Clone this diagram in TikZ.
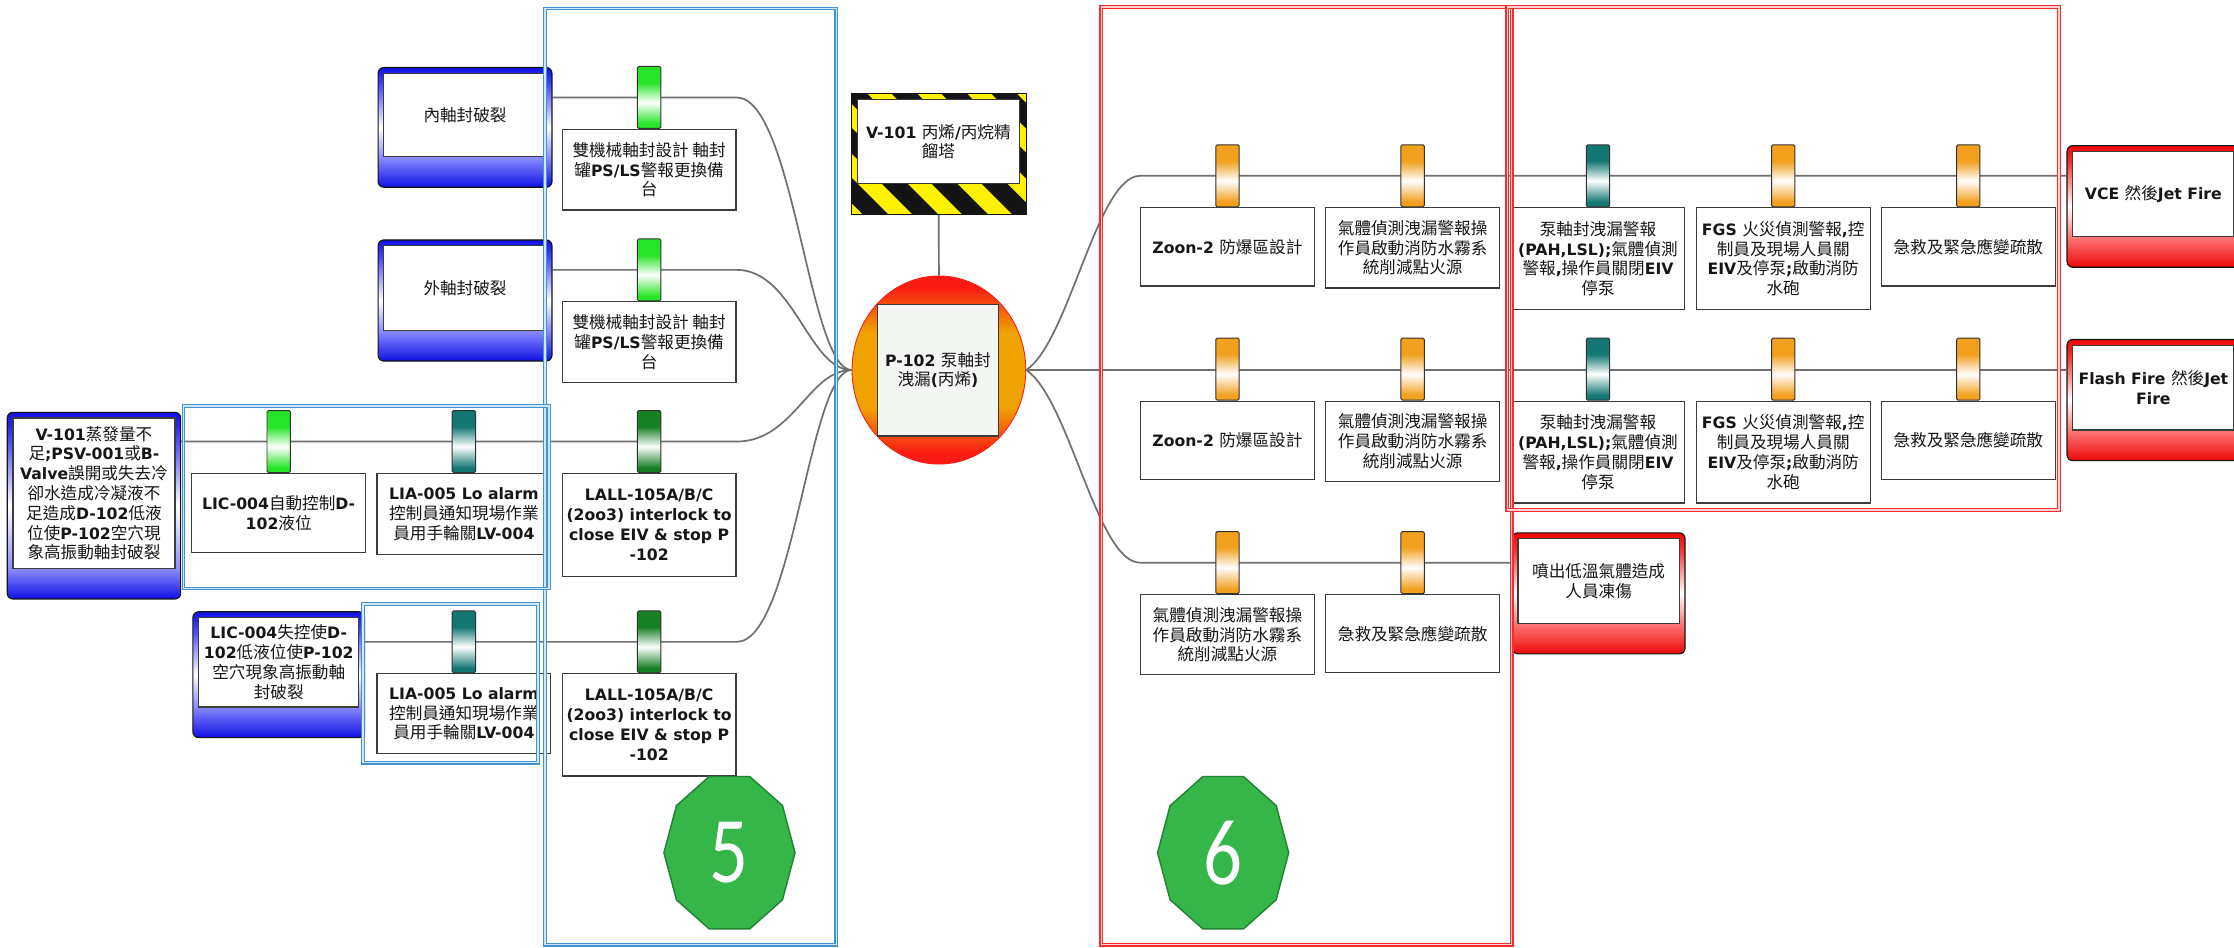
\documentclass[tikz,border=0pt]{standalone}
\usepackage{fontspec}
\usetikzlibrary{shapes.geometric}

% Latin text in bold DejaVu Sans, CJK text in Noto Sans CJK TC
\newfontfamily\latfam{DejaVu Sans}
\newfontfamily\cjkfam{Noto Sans CJK TC}[Scale=1.06]
\newfontfamily\numfam{Carlito}
\newcommand\latsw{\latfam\bfseries}
\newcommand\cjksw{\cjkfam\mdseries}

% automatic font switching between Latin and CJK characters
\newXeTeXintercharclass\cjkcls
\newcount\cjkcnt
\cjkcnt="4E00
\loop
  \XeTeXcharclass\cjkcnt=\cjkcls
  \advance\cjkcnt by 1
\ifnum\cjkcnt<"A000 \repeat
\XeTeXinterchartoks 0 \cjkcls = {\cjksw}
\XeTeXinterchartoks 4095 \cjkcls = {\cjksw}
\XeTeXinterchartoks \cjkcls 0 = {\latsw}
\XeTeXinterchartoks 4095 0 = {\latsw}
\newcommand\diagfont{\XeTeXinterchartokenstate=1 \fontsize{11}{13.9}\selectfont\latsw}

% colours
\definecolor{linegray}{RGB}{112,112,112}
\definecolor{boxedge}{RGB}{60,60,60}
\definecolor{tabedge}{RGB}{50,50,50}
\definecolor{txtcol}{RGB}{22,22,22}
\definecolor{tgreen}{RGB}{40,228,40}
\definecolor{tdkgreen}{RGB}{24,128,36}
\definecolor{tteal}{RGB}{20,120,114}
\definecolor{torange}{RGB}{242,160,30}
\definecolor{bdeep}{RGB}{16,16,228}
\definecolor{bmid}{RGB}{70,70,250}
\definecolor{blight}{RGB}{140,140,255}
\definecolor{rdeep}{RGB}{236,8,8}
\definecolor{rmid}{RGB}{250,50,50}
\definecolor{rlight}{RGB}{255,120,120}
\definecolor{evred}{RGB}{250,28,20}
\definecolor{evorange}{RGB}{240,162,0}
\definecolor{evbg}{RGB}{244,246,244}
\definecolor{hazyel}{RGB}{255,242,0}
\definecolor{hazblk}{RGB}{20,20,20}
\definecolor{frameblue}{RGB}{66,146,214}
\definecolor{framered}{RGB}{245,45,45}
\definecolor{octgreen}{RGB}{52,182,72}
\definecolor{octedge}{RGB}{36,130,52}

% shadings
\pgfdeclareverticalshading{tabgrn}{100bp}{color(0bp)=(tgreen); color(29bp)=(tgreen); color(46bp)=(white); color(62bp)=(tgreen); color(100bp)=(tgreen)}
\pgfdeclareverticalshading{tabdkg}{100bp}{color(0bp)=(tdkgreen); color(29bp)=(tdkgreen); color(46bp)=(white); color(62bp)=(tdkgreen); color(100bp)=(tdkgreen)}
\pgfdeclareverticalshading{tabteal}{100bp}{color(0bp)=(tteal); color(29bp)=(tteal); color(46bp)=(white); color(62bp)=(tteal); color(100bp)=(tteal)}
\pgfdeclareverticalshading{taborg}{100bp}{color(0bp)=(torange); color(29bp)=(torange); color(46bp)=(white); color(62bp)=(torange); color(100bp)=(torange)}
\pgfdeclareverticalshading{thrblue}{100bp}{color(0bp)=(bdeep); color(25bp)=(bdeep); color(37.5bp)=(blight); color(50bp)=(white); color(68bp)=(bmid); color(75bp)=(bdeep); color(100bp)=(bdeep)}
\pgfdeclareverticalshading{thrbluetall}{100bp}{color(0bp)=(bdeep); color(25bp)=(bdeep); color(33.2bp)=(blight); color(50bp)=(white); color(68bp)=(bmid); color(75bp)=(bdeep); color(100bp)=(bdeep)}
\pgfdeclareverticalshading{conred}{100bp}{color(0bp)=(rdeep); color(25bp)=(rdeep); color(37.5bp)=(rlight); color(50bp)=(white); color(68bp)=(rmid); color(75bp)=(rdeep); color(100bp)=(rdeep)}
\pgfdeclareverticalshading{topev}{100bp}{color(0bp)=(evred); color(28bp)=(evred); color(40bp)=(evorange); color(60bp)=(evorange); color(72bp)=(evred); color(100bp)=(evred)}

\pgfdeclarelayer{paper}
\pgfdeclarelayer{wires}
\pgfsetlayers{paper,wires,main}

\tikzset{
  conn/.style={draw=linegray, line width=1.2pt},
  bbox/.style={draw=boxedge, line width=0.8pt, fill=white, minimum width=122, inner sep=1.5pt,
    anchor=north, font=\diagfont, text=txtcol, align=center},
  tabbar/.style={draw=tabedge, line width=0.7pt, rounded corners=1pt, minimum width=16.4,
    minimum height=43.5, inner sep=0pt, anchor=south},
  riskouter/.style={draw=hazblk, line width=0.8pt, rounded corners=4pt, inner sep=0pt, anchor=north west},
  riskinner/.style={draw=boxedge, line width=0.8pt, fill=white, inner sep=1pt, anchor=north west,
    font=\diagfont, text=txtcol, align=center},
  bluegroup/.style={draw=frameblue, double=frameblue!22, double distance=1.1pt, line width=0.8pt},
  redgroup/.style={draw=framered, double=framered!22, double distance=1.1pt, line width=0.8pt},
  octnum/.style={regular polygon, regular polygon sides=10, minimum size=112.5, inner sep=0pt,
    fill=octgreen, draw=octedge, line width=1pt, text=white,
    font=\numfam\fontsize{66}{66}\selectfont},
}

% threat / consequence box: name, x1, y1, x2, y2, shading, text
\newcommand\riskbox[7]{%
  \node[riskouter, shading=#6, minimum width={#4-#2}, minimum height={#5-#3}] (#1) at (#2,#3) {};
  \node[riskinner, minimum width={#4-#2-8}, minimum height={#5-#3-25.5}] (#1-in) at ({#2+4},{#3+4}) {#7};
}

\begin{document}
\begin{tikzpicture}[x=1pt,y=-1pt]
\useasboundingbox (0,0) rectangle (1568,665);
\clip (0,0) rectangle (1568,665);
\begin{pgfonlayer}{paper}
  \fill[white] (0,0) rectangle (1568,665);
\end{pgfonlayer}

% ---------------- threats ----------------
\riskbox{t1}{265}{47}{387}{131}{thrblue}{內軸封破裂}
\riskbox{t2}{265}{168}{387}{253}{thrblue}{外軸封破裂}
\riskbox{t3}{4.7}{289}{126.4}{420}{thrbluetall}{V-101蒸發量不\\足;PSV-001或B-\\Valve誤開或失去冷\\卻水造成冷凝液不\\足造成D-102低液\\位使P-102空穴現\\象高振動軸封破裂}
\riskbox{t4}{135}{429}{255.5}{517.3}{thrblue}{LIC-004失控使D-\\102低液位使P-102\\空穴現象高振動軸\\封破裂}

% ---------------- preventive barriers ----------------
\node[tabbar, shading=tabgrn] (b1t) at (455.6,90.5) {};
\node[bbox, minimum height=56.5] (b1) at (455.6,90.5) {雙機械軸封設計 軸封\\罐PS/LS警報更換備\\台};
\node[tabbar, shading=tabgrn] (b2t) at (455.6,211.5) {};
\node[bbox, minimum height=56.5] (b2) at (455.6,211.5) {雙機械軸封設計 軸封\\罐PS/LS警報更換備\\台};

\node[tabbar, shading=tabgrn] (l3t1) at (195.6,332) {};
\node[bbox, minimum height=55.5] (l3a) at (195.6,332) {LIC-004自動控制D-\\102液位};
\node[tabbar, shading=tabteal] (l3t2) at (325.6,332) {};
\node[bbox, minimum height=57] (l3b) at (325.6,332) {LIA-005 Lo alarm\\控制員通知現場作業\\員用手輪關LV-004};
\node[tabbar, shading=tabdkg] (l3t3) at (455.6,332) {};
\node[bbox, minimum height=72] (l3c) at (455.6,332) {LALL-105A/B/C\\(2oo3) interlock to\\close EIV \& stop P\\-102};

\node[tabbar, shading=tabteal] (l4t1) at (325.6,472.6) {};
\node[bbox, minimum height=56] (l4a) at (325.6,472.6) {LIA-005 Lo alarm\\控制員通知現場作業\\員用手輪關LV-004};
\node[tabbar, shading=tabdkg] (l4t2) at (455.6,472.6) {};
\node[bbox, minimum height=71.6] (l4b) at (455.6,472.6) {LALL-105A/B/C\\(2oo3) interlock to\\close EIV \& stop P\\-102};

% ---------------- hazard ----------------
\node[draw=hazblk, line width=0.8pt, minimum width=122, minimum height=84.6, inner sep=0pt, anchor=north west] (haz) at (597.5,65.4) {};
\begin{scope}
  \clip (haz.north west) rectangle (haz.south east);
  \fill[hazyel] (haz.north west) rectangle (haz.south east);
  \foreach \k in {0,...,7}
    \fill[hazblk] ({515+35*\k},60) -- ++(18,0) -- ++(95,95) -- ++(-18,0) -- cycle;
\end{scope}
\draw[hazblk, line width=0.8pt] (haz.north west) rectangle (haz.south east);
\node[riskinner, minimum width=113.5, minimum height=58.9] (haz-in) at (601.5,69.6) {V-101 丙烯/丙烷精\\餾塔};

% ---------------- top event ----------------
\node[ellipse, shading=topev, draw=evred, line width=0.6pt, minimum width=122, minimum height=132, inner sep=0pt] (top) at (659,259.7) {};
\node[draw=boxedge, line width=0.8pt, fill=evbg, minimum width=85.4, minimum height=92.5, inner sep=1pt,
  font=\diagfont, text=txtcol, align=center] (top-in) at (658.3,259.75) {P-102 泵軸封\\洩漏(丙烯)};

% ---------------- mitigative barriers ----------------
\node[tabbar, shading=taborg] (tA1) at (861.5,145.5) {};
\node[bbox, minimum height=54.8] (rA1) at (861.5,145.5) {Zoon-2 防爆區設計};
\node[tabbar, shading=taborg] (tA2) at (991.5,145.5) {};
\node[bbox, minimum height=56.2] (rA2) at (991.5,145.5) {氣體偵測洩漏警報操\\作員啟動消防水霧系\\統削減點火源};
\node[tabbar, shading=tabteal] (tA3) at (1121.6,145.5) {};
\node[bbox, minimum height=71.4] (rA3) at (1121.6,145.5) {泵軸封洩漏警報\\(PAH,LSL);氣體偵測\\警報,操作員關閉EIV\\停泵};
\node[tabbar, shading=taborg] (tA4) at (1251.6,145.5) {};
\node[bbox, minimum height=71.4] (rA4) at (1251.6,145.5) {FGS 火災偵測警報,控\\制員及現場人員關\\EIV及停泵;啟動消防\\水砲};
\node[tabbar, shading=taborg] (tA5) at (1381.5,145.5) {};
\node[bbox, minimum height=54.8] (rA5) at (1381.5,145.5) {急救及緊急應變疏散};

\node[tabbar, shading=taborg] (tB1) at (861.5,281.2) {};
\node[bbox, minimum height=54.8] (rB1) at (861.5,281.2) {Zoon-2 防爆區設計};
\node[tabbar, shading=taborg] (tB2) at (991.5,281.2) {};
\node[bbox, minimum height=56.4] (rB2) at (991.5,281.2) {氣體偵測洩漏警報操\\作員啟動消防水霧系\\統削減點火源};
\node[tabbar, shading=tabteal] (tB3) at (1121.6,281.2) {};
\node[bbox, minimum height=71.4] (rB3) at (1121.6,281.2) {泵軸封洩漏警報\\(PAH,LSL);氣體偵測\\警報,操作員關閉EIV\\停泵};
\node[tabbar, shading=taborg] (tB4) at (1251.6,281.2) {};
\node[bbox, minimum height=71.4] (rB4) at (1251.6,281.2) {FGS 火災偵測警報,控\\制員及現場人員關\\EIV及停泵;啟動消防\\水砲};
\node[tabbar, shading=taborg] (tB5) at (1381.5,281.2) {};
\node[bbox, minimum height=54.8] (rB5) at (1381.5,281.2) {急救及緊急應變疏散};

\node[tabbar, shading=taborg] (tC1) at (861.5,417) {};
\node[bbox, minimum height=56.2] (rC1) at (861.5,417) {氣體偵測洩漏警報操\\作員啟動消防水霧系\\統削減點火源};
\node[tabbar, shading=taborg] (tC2) at (991.5,417) {};
\node[bbox, minimum height=54.8] (rC2) at (991.5,417) {急救及緊急應變疏散};

% ---------------- consequences ----------------
\riskbox{c1}{1450.4}{101.8}{1571.6}{187.2}{conred}{VCE 然後Jet Fire}
\riskbox{c2}{1450.4}{237.9}{1571.6}{322.9}{conred}{Flash Fire 然後Jet\\Fire}
\riskbox{c3}{1061}{373.6}{1182.3}{458.5}{conred}{噴出低溫氣體造成\\人員凍傷}

% ---------------- connectors ----------------
\begin{pgfonlayer}{wires}
  \draw[conn] (t1.east |- b1t.center) -- (b1t.center -| b1.east) .. controls +(40,0) and +(-30,0) .. (top.west);
  \draw[conn] (t2.east |- b2t.center) -- (b2t.center -| b2.east) .. controls +(40,0) and +(-30,0) .. (top.west);
  \draw[conn] (t3.east |- l3t1.center) -- (l3t1.center -| l3c.east) .. controls +(40,0) and +(-30,0) .. (top.west);
  \draw[conn] (t4.east |- l4t1.center) -- (l4t1.center -| l4b.east) .. controls +(40,0) and +(-30,0) .. (top.west);
  \draw[conn] (haz.south) -- (top.north);
  \draw[conn] (top.east) .. controls +(30,-20) and +(-30,0) .. (tA1.center -| rA1.west) -- (tA1.center -| c1.west);
  \draw[conn] (top.east) -- (top.east -| c2.west);
  \draw[conn] (top.east) .. controls +(30,20) and +(-30,0) .. (tC1.center -| rC1.west) -- (tC1.center -| c3.west);
\end{pgfonlayer}

% ---------------- barrier groups ----------------
\draw[bluegroup] (382.5,6) rectangle (587,663);
\draw[bluegroup] (128.8,285) rectangle (385.5,413);
\draw[bluegroup] (254.6,424) rectangle (377.5,535.3);
\draw[redgroup] (773,5) rectangle (1061,663);
\draw[redgroup] (1058,5) rectangle (1445,358);

% ---------------- group numbers ----------------
\begin{scope}[shift={(512,598.5)}, xscale=0.818]
  \node[octnum, transform shape] (n5) at (0,0) {5};
\end{scope}
\begin{scope}[shift={(858.5,598.5)}, xscale=0.818]
  \node[octnum, transform shape] (n6) at (0,0) {6};
\end{scope}
\end{tikzpicture}
\end{document}
